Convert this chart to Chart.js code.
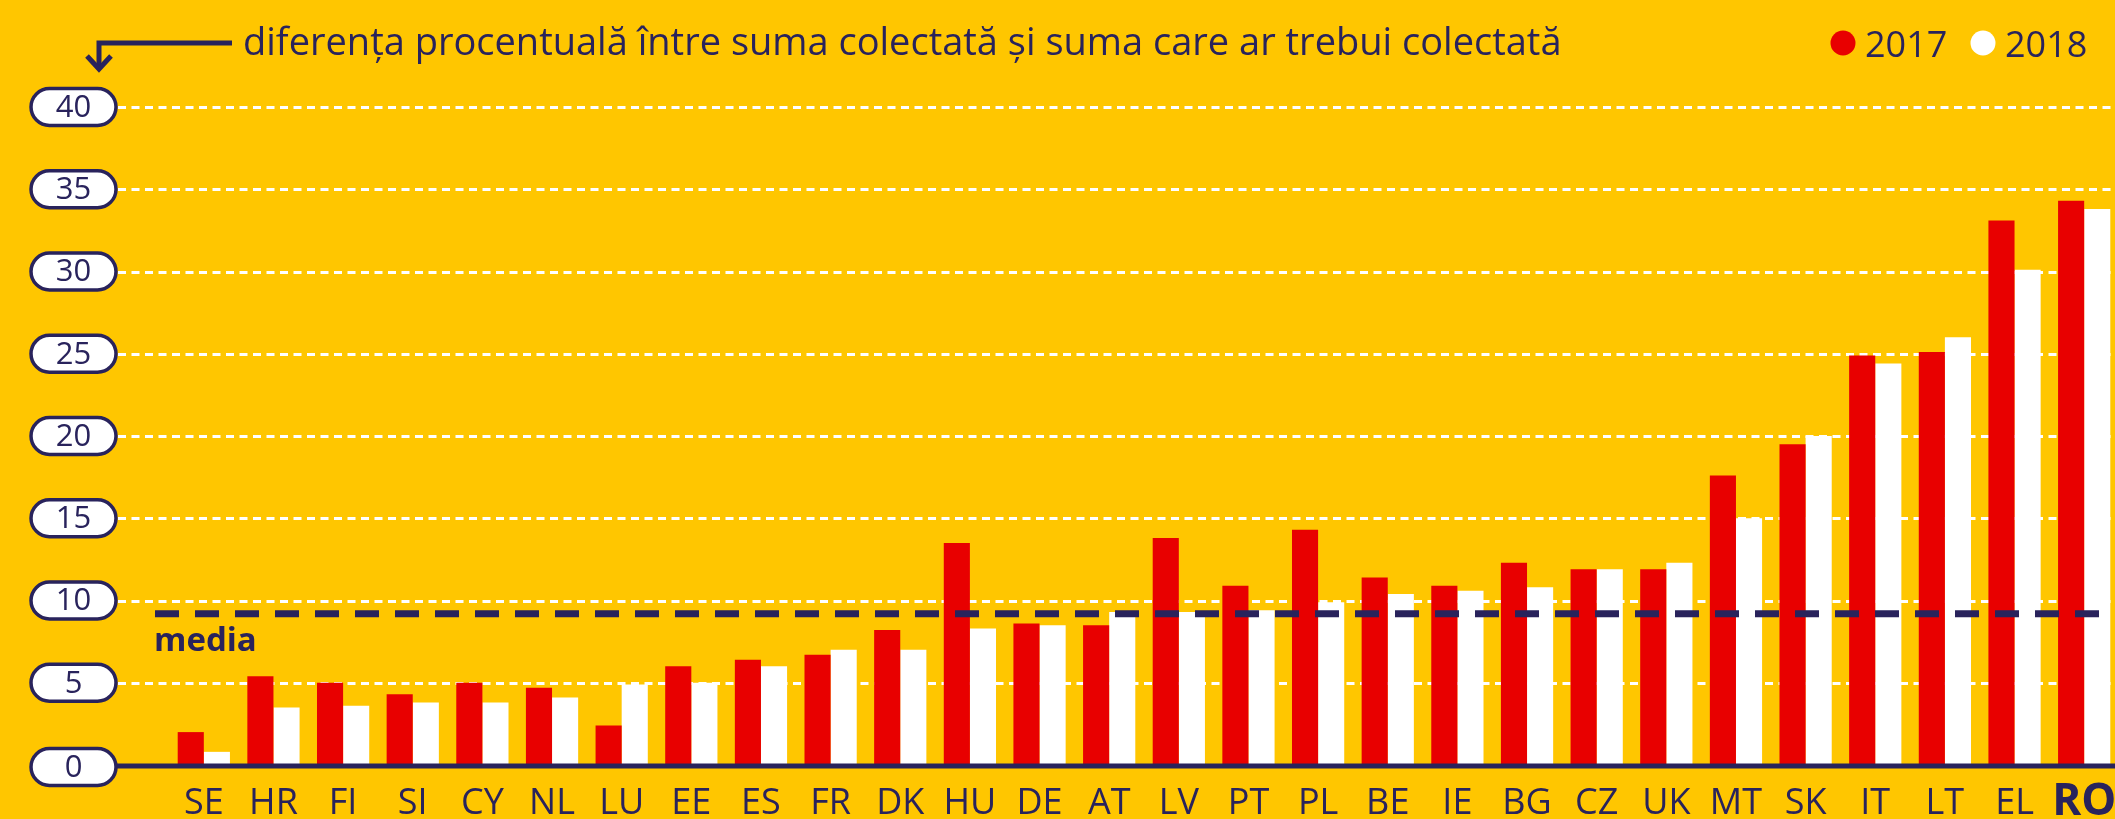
<!DOCTYPE html>
<html>
<head>
<meta charset="utf-8">
<script src="https://cdn.jsdelivr.net/npm/chart.js@4.4.1/dist/chart.umd.min.js"></script>
<style>
    html, body { margin: 0; padding: 0; background: #FFC600; overflow: hidden; }
    #wrap { position: relative; width: 2115px; height: 819px; overflow: hidden; }
    #wrap canvas { position: absolute; left: 0; top: 0; }
</style>
</head>
<body>
<div id="wrap"><canvas id="gapChart" width="2119" height="819"></canvas></div>
<script>
// VAT gap data
const countries = ['SE', 'HR', 'FI', 'SI', 'CY', 'NL', 'LU', 'EE', 'ES', 'FR', 'DK', 'HU', 'DE', 'AT',
    'LV', 'PT', 'PL', 'BE', 'IE', 'BG', 'CZ', 'UK', 'MT', 'SK', 'IT', 'LT', 'EL', 'RO'];
const gap2017 = [2.0, 5.4, 5.0, 4.3, 5.0, 4.7, 2.4, 6.0, 6.4, 6.7, 8.2, 13.5, 8.6, 8.5,
    13.8, 10.9, 14.3, 11.4, 10.9, 12.3, 11.9, 11.9, 17.6, 19.5, 24.9, 25.1, 33.1, 34.3];
const gap2018 = [0.8, 3.5, 3.6, 3.8, 3.8, 4.1, 4.9, 5.0, 6.0, 7.0, 7.0, 8.3, 8.5, 9.3,
    9.3, 9.4, 9.9, 10.4, 10.6, 10.8, 11.9, 12.3, 15.0, 20.0, 24.4, 26.0, 30.1, 33.8];
const yTicks = [0, 5, 10, 15, 20, 25, 30, 35, 40];
const mediaValue = 9.2;
const titleText = 'diferența procentuală între suma colectată și suma care ar trebui colectată';

const NAVY = '#29235C';
const RED = '#E80000';
const WHITE = '#FFFFFF';
const FONT = "'Open Sans', sans-serif";

function pill(ctx, x, y, w, h) {
    const r = h / 2;
    ctx.beginPath();
    ctx.moveTo(x + r, y);
    ctx.lineTo(x + w - r, y);
    ctx.arc(x + w - r, y + r, r, -Math.PI / 2, Math.PI / 2);
    ctx.lineTo(x + r, y + h);
    ctx.arc(x + r, y + r, r, Math.PI / 2, Math.PI * 1.5);
    ctx.closePath();
}

// white dashed gridlines, behind the bars
const gridPlugin = {
    id: 'gridLines',
    beforeDatasetsDraw(chart) {
        const ctx = chart.ctx;
        const y = chart.scales.y;
        ctx.save();
        ctx.strokeStyle = WHITE;
        ctx.lineWidth = 3;
        ctx.setLineDash([8, 5.5]);
        yTicks.forEach(function (v) {
            if (v === 0) return;
            const py = Math.round(y.getPixelForValue(v)) + 0.5;
            ctx.beginPath();
            ctx.moveTo(118, py);
            ctx.lineTo(chart.width, py);
            ctx.stroke();
        });
        ctx.restore();
    }
};

// media line, axis line, tick pills, title, arrow and legend
const decorPlugin = {
    id: 'decor',
    afterDatasetsDraw(chart) {
        const ctx = chart.ctx;
        const y = chart.scales.y;
        ctx.save();

        // media line
        const my = y.getPixelForValue(mediaValue);
        ctx.strokeStyle = NAVY;
        ctx.lineWidth = 7;
        ctx.setLineDash([24, 16]);
        ctx.beginPath();
        ctx.moveTo(155, my);
        ctx.lineTo(chart.width, my);
        ctx.stroke();
        ctx.setLineDash([]);

        ctx.fillStyle = NAVY;
        ctx.font = 'bold 33px ' + FONT;
        ctx.textAlign = 'left';
        ctx.textBaseline = 'alphabetic';
        ctx.fillText('media', 154, my + 37);

        // x axis line
        const zy = y.getPixelForValue(0);
        ctx.lineWidth = 5;
        ctx.beginPath();
        ctx.moveTo(110, zy + 1);
        ctx.lineTo(chart.width, zy + 1);
        ctx.stroke();

        // y tick pills
        ctx.font = '31px ' + FONT;
        ctx.textAlign = 'center';
        ctx.textBaseline = 'middle';
        yTicks.forEach(function (v) {
            const py = y.getPixelForValue(v) + (v === 0 ? 2 : 0);
            pill(ctx, 31, py - 18.5, 85, 37);
            ctx.fillStyle = WHITE;
            ctx.fill();
            ctx.lineWidth = 3.5;
            ctx.strokeStyle = NAVY;
            ctx.stroke();
            ctx.fillStyle = NAVY;
            ctx.fillText(String(v), 73.5, py + 1);
        });

        // title with arrow
        ctx.lineWidth = 5;
        ctx.strokeStyle = NAVY;
        ctx.beginPath();
        ctx.moveTo(232, 43);
        ctx.lineTo(99, 43);
        ctx.lineTo(99, 68);
        ctx.stroke();
        ctx.beginPath();
        ctx.moveTo(87, 56);
        ctx.lineTo(99, 69);
        ctx.lineTo(111, 56);
        ctx.stroke();

        ctx.textAlign = 'left';
        ctx.textBaseline = 'alphabetic';
        ctx.font = '38px ' + FONT;
        ctx.fillText(titleText, 243, 55);

        // legend
        ctx.font = '36px ' + FONT;
        const lx = [1843, 1983];
        chart.data.datasets.forEach(function (ds, i) {
            ctx.beginPath();
            ctx.arc(lx[i], 43, 12.5, 0, Math.PI * 2);
            ctx.fillStyle = ds.backgroundColor;
            ctx.fill();
            ctx.fillStyle = NAVY;
            ctx.fillText(ds.label, lx[i] + 22, 57);
        });

        ctx.restore();
    }
};

document.addEventListener('DOMContentLoaded', function () {
    const canvas = document.getElementById('gapChart');
    new Chart(canvas, {
        type: 'bar',
        data: {
            labels: countries,
            datasets: [
                {
                    label: '2017',
                    data: gap2017,
                    backgroundColor: RED,
                    borderWidth: 0,
                    categoryPercentage: 0.75,
                    barPercentage: 1.0
                },
                {
                    label: '2018',
                    data: gap2018,
                    backgroundColor: WHITE,
                    borderWidth: 0,
                    categoryPercentage: 0.75,
                    barPercentage: 1.0
                }
            ]
        },
        options: {
            responsive: false,
            animation: false,
            devicePixelRatio: 1,
            layout: { padding: { left: 169, right: 0, top: 107, bottom: 0 } },
            plugins: {
                legend: { display: false },
                tooltip: { enabled: false }
            },
            scales: {
                x: {
                    grid: { display: false, drawTicks: false },
                    border: { display: false },
                    ticks: {
                        padding: 17,
                        color: NAVY,
                        maxRotation: 0,
                        autoSkip: false,
                        font: function (c) {
                            return c.index === countries.length - 1
                                ? { family: FONT, size: 44, weight: 'bold', lineHeight: 0.94 }
                                : { family: FONT, size: 36 };
                        }
                    },
                    afterFit: function (scale) {
                        scale.height = 54;
                        scale.paddingLeft = 0;
                        scale.paddingRight = 0;
                    }
                },
                y: {
                    display: false,
                    min: 0,
                    max: 40
                }
            }
        },
        plugins: [gridPlugin, decorPlugin]
    });
});
</script>
</body>
</html>
